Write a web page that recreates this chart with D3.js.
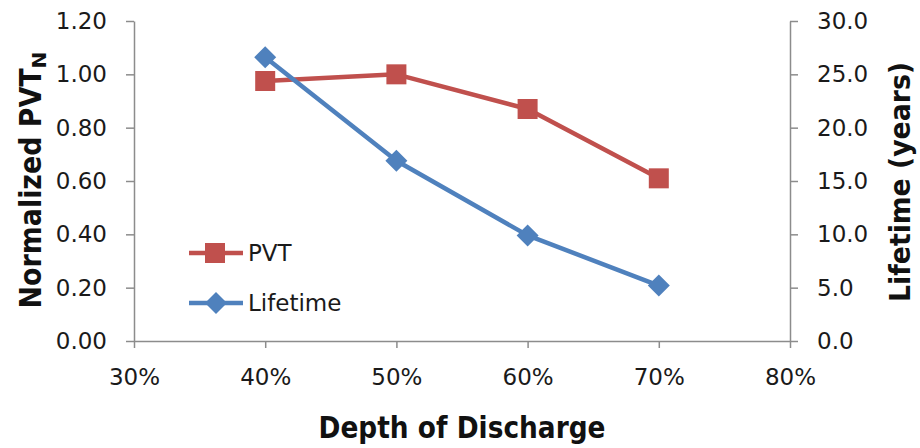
<!DOCTYPE html>
<html><head><meta charset="utf-8">
<script src="https://cdn.jsdelivr.net/npm/d3@7"></script>
<style>html,body{margin:0;padding:0;background:#fff;}svg{display:block;}</style>
</head><body>
<svg id="chart" width="920" height="448"></svg>
<script>
const depth = [0.40, 0.50, 0.60, 0.70];
const pvt = [0.975, 1.00, 0.87, 0.61];
const lifetime = [26.6, 16.9, 9.9, 5.2];
const xTicks = [0.3, 0.4, 0.5, 0.6, 0.7, 0.8];
const yLeftTicks = [0, 0.2, 0.4, 0.6, 0.8, 1.0, 1.2];
const yRightTicks = [0, 5, 10, 15, 20, 25, 30];

const svg = d3.select("#chart");
const FONT = "'DejaVu Sans', sans-serif";
const axisColor = "#8c8c8c";
const red = "#C0504D", blue = "#4F81BD";

const x = d3.scaleLinear().domain([0.3, 0.8]).range([134, 790]);
const yL = d3.scaleLinear().domain([0, 1.2]).range([341, 21]);
const yR = d3.scaleLinear().domain([0, 30]).range([341, 21]);

function style(g) {
  g.selectAll("path.domain").attr("stroke", axisColor).attr("stroke-width", 1.5);
  g.selectAll(".tick line").attr("stroke", axisColor).attr("stroke-width", 1.5);
  g.selectAll("text").attr("font-family", FONT).attr("font-size", 23).attr("fill", "#1a1a1a");
}

const gx = svg.append("g").attr("transform", "translate(0,341)")
  .call(d3.axisBottom(x).tickValues(xTicks).tickSize(7).tickSizeOuter(0).tickPadding(21).tickFormat(d3.format(".0%")));
style(gx);

const gl = svg.append("g").attr("transform", "translate(134,0)")
  .call(d3.axisLeft(yL).tickValues(yLeftTicks).tickSize(8).tickSizeOuter(0).tickPadding(19).tickFormat(d3.format(".2f")));
style(gl);

const gr = svg.append("g").attr("transform", "translate(790,0)")
  .call(d3.axisRight(yR).tickValues(yRightTicks).tickSize(8).tickSizeOuter(0).tickPadding(19).tickFormat(d3.format(".1f")));
style(gr);

// lines
const linePVT = d3.line().x((d, i) => x(depth[i])).y(d => yL(d));
const lineLife = d3.line().x((d, i) => x(depth[i])).y(d => yR(d));

svg.append("path").datum(pvt).attr("d", linePVT).attr("fill", "none")
  .attr("stroke", red).attr("stroke-width", 4.5).attr("stroke-linejoin", "round");
svg.append("path").datum(lifetime).attr("d", lineLife).attr("fill", "none")
  .attr("stroke", blue).attr("stroke-width", 4.5).attr("stroke-linejoin", "round");

const sq = 20, dm = 11;
svg.selectAll("rect.pvt").data(pvt).enter().append("rect")
  .attr("x", (d, i) => x(depth[i]) - sq / 2).attr("y", d => yL(d) - sq / 2)
  .attr("width", sq).attr("height", sq).attr("fill", red);
svg.selectAll("path.life").data(lifetime).enter().append("path")
  .attr("transform", (d, i) => `translate(${x(depth[i])},${yR(d)})`)
  .attr("d", `M0,${-dm}L${dm},0L0,${dm}L${-dm},0Z`).attr("fill", blue);

// legend
const lg = svg.append("g");
lg.append("line").attr("x1", 189).attr("x2", 243).attr("y1", 253).attr("y2", 253)
  .attr("stroke", red).attr("stroke-width", 4.5);
lg.append("rect").attr("x", 215 - sq / 2).attr("y", 253 - sq / 2).attr("width", sq).attr("height", sq).attr("fill", red);
lg.append("text").attr("x", 248).attr("y", 253).attr("dy", "0.36em").text("PVT")
  .attr("font-family", FONT).attr("font-size", 23).attr("fill", "#1a1a1a");
lg.append("line").attr("x1", 189).attr("x2", 243).attr("y1", 303).attr("y2", 303)
  .attr("stroke", blue).attr("stroke-width", 4.5);
lg.append("path").attr("transform", "translate(216,303)")
  .attr("d", `M0,${-dm}L${dm},0L0,${dm}L${-dm},0Z`).attr("fill", blue);
lg.append("text").attr("x", 248).attr("y", 303).attr("dy", "0.36em").text("Lifetime")
  .attr("font-family", FONT).attr("font-size", 23).attr("fill", "#1a1a1a");

// titles
svg.append("text").attr("x", 462).attr("y", 438).attr("text-anchor", "middle")
  .attr("font-family", FONT).attr("font-weight", "bold").attr("font-size", 30).attr("fill", "#111")
  .attr("textLength", 287).attr("lengthAdjust", "spacingAndGlyphs")
  .text("Depth of Discharge");

const yt = svg.append("text").attr("transform", "translate(41,180) rotate(-90)").attr("text-anchor", "middle")
  .attr("font-family", FONT).attr("font-weight", "bold").attr("font-size", 31).attr("fill", "#111");
yt.append("tspan").attr("textLength", 240).attr("lengthAdjust", "spacingAndGlyphs").text("Normalized PVT");
yt.append("tspan").attr("font-size", 20).attr("dy", 5).text("N");

svg.append("text").attr("transform", "translate(910,182) rotate(-90)").attr("text-anchor", "middle")
  .attr("font-family", FONT).attr("font-weight", "bold").attr("font-size", 29).attr("fill", "#111")
  .attr("textLength", 240).attr("lengthAdjust", "spacingAndGlyphs")
  .text("Lifetime (years)");
</script>
</body></html>
